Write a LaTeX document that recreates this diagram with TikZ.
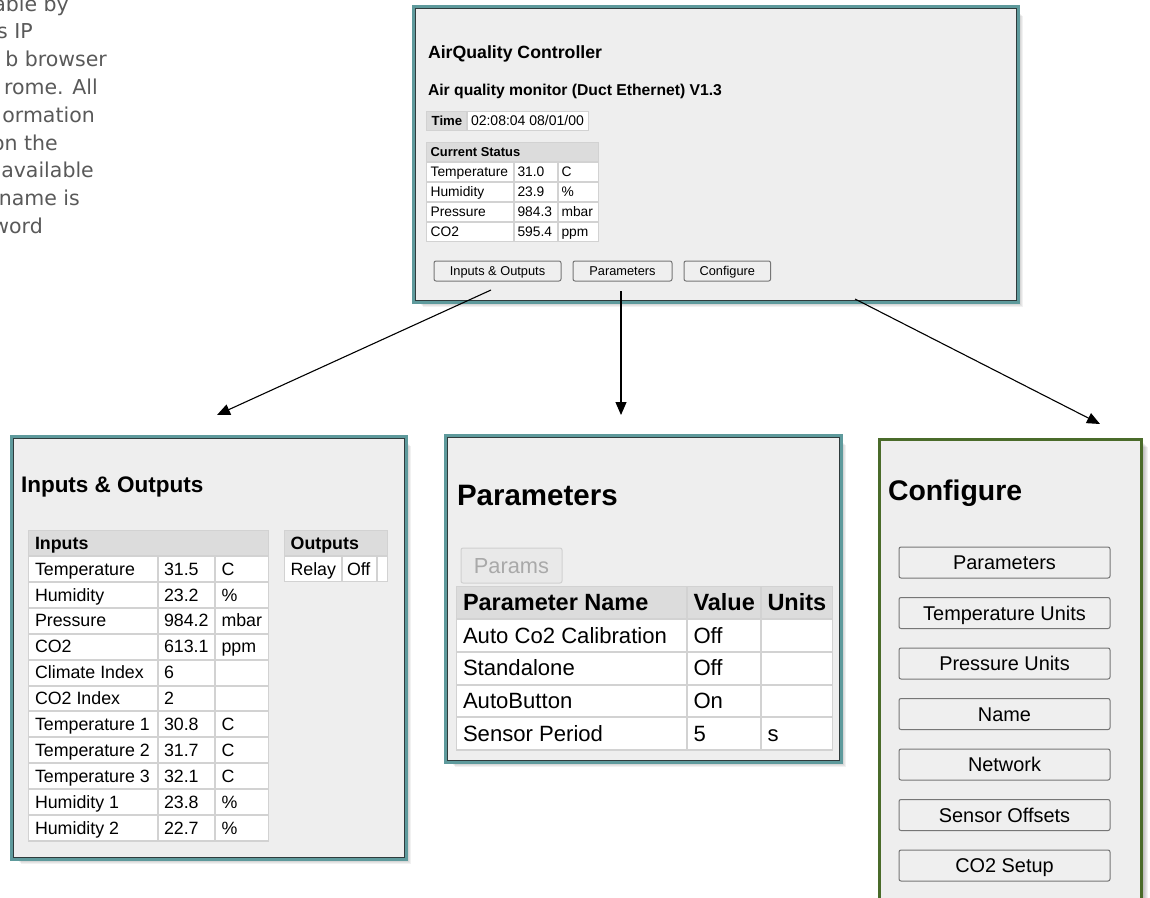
\documentclass[tikz,border=0pt]{standalone}
\usepackage{fontspec}
\setmainfont{Liberation Sans}
\newfontfamily\verdfont{DejaVu Sans}
\usetikzlibrary{arrows.meta}
\definecolor{panelbg}{HTML}{EEEEEE}
\definecolor{panelteal}{HTML}{5E9A9C}
\definecolor{paneldark}{HTML}{2F3B3C}
\definecolor{panelgreen}{HTML}{4A6B2A}
\definecolor{gridc}{HTML}{D2D2D2}
\definecolor{headc}{HTML}{DCDCDC}
\definecolor{btnborder}{HTML}{767676}
\definecolor{btnfill}{HTML}{EFEFEF}
\definecolor{txtgray}{HTML}{595959}
\definecolor{disgray}{HTML}{A9A9A9}
\definecolor{disfill}{HTML}{E9E9E9}
\definecolor{disborder}{HTML}{D0D0D0}
\newcommand{\fsz}[1]{\fontsize{#1}{#1}\selectfont}
\tikzset{
  lbl/.style={anchor=base west, inner sep=0pt, outer sep=0pt},
  btnbox/.style={draw=btnborder, fill=btnfill, line width=1pt, rounded corners=2pt, inner sep=0pt, outer sep=0pt},
  conn/.style={line width=1.1pt, -{Triangle[length=13pt,width=11pt]}},
  shd/.style={fill=black, opacity=0.055},
}
\newcommand{\pshadow}[4]{\foreach \d in {1,...,7}{\fill[shd] (#1+\d+1,#2+\d+1) rectangle (#3+\d,#4+\d);}}
\newcommand{\tpanel}[5]{%
  \pshadow{#2}{#3}{#4}{#5}
  \draw[panelteal, line width=3pt] (#2-2,#3-2) rectangle (#4+2,#5+2);
  \node[draw=paneldark, line width=1pt, fill=panelbg, inner sep=0pt, outer sep=0pt,
        minimum width={#4-#2}, minimum height={#5-#3}] (#1) at ({(#2+#4)/2},{(#3+#5)/2}) {};}
\newcommand{\tcell}[4]{\fill[white] (#1+1,#2+1) rectangle (#3-1,#4-1);}
\newcommand{\hcell}[4]{\fill[headc] (#1+1,#2+1) rectangle (#3-1,#4-1);}
\newcommand{\ctext}[6]{\node[lbl, font=\fsz{#5}] (#1) at (#2,{(#3+#4)/2+0.35*#5}) {#6};}
\begin{document}
\begin{tikzpicture}[x=1pt,y=-1pt]
\useasboundingbox (0,0) rectangle (1150,897);
\clip (0,0) rectangle (1150,897);

% ---- intro text (clipped at the left edge)
\foreach \t/\xr/\yb [count=\i] in {able by/69/11, s IP/33/38.8, b browser/107/66.6, rome. All/98/94.4, ormation/95/122.2, on the/58/150, available/94/177.8, name is/80/205.6, word/43/233.4}
  \node[anchor=base east, inner sep=0pt, font=\verdfont\fsz{20.5}, text=txtgray] (intro\i) at (\xr,\yb) {\t};

% ---- main panel
\tpanel{main}{415}{8}{1016}{300}
\node[lbl, font=\bfseries\fsz{17.7}] (title) at (428,58) {AirQuality Controller};
\node[lbl, font=\bfseries\fsz{15.7}] (subtitle) at (428,95) {Air quality monitor (Duct Ethernet) V1.3};
\fill[gridc] (426,111) rectangle (589,131);
\hcell{426}{111}{467}{131}
\tcell{467}{111}{589}{131}
\ctext{timeh}{431.7}{111}{131}{13.2}{\bfseries Time}
\ctext{timev}{471}{111}{131}{14}{02:08:04 08/01/00}

\fill[gridc] (426,142) rectangle (599,242);
\hcell{426}{142}{599}{162}
\ctext{sth}{430.6}{142}{162}{12.9}{\bfseries Current Status}
\foreach \n/\v/\u [count=\i from 0] in {Temperature/31.0/C, Humidity/23.9/\%, Pressure/984.3/mbar, CO2/595.4/ppm}{
  \pgfmathsetmacro\ya{162+20*\i}\pgfmathsetmacro\yb{182+20*\i}
  \tcell{426}{\ya}{514}{\yb}\tcell{514}{\ya}{558}{\yb}\tcell{558}{\ya}{599}{\yb}
  \ctext{stn\i}{430.6}{\ya}{\yb}{13.8}{\n}
  \ctext{stv\i}{517.5}{\ya}{\yb}{13.8}{\v}
  \ctext{stu\i}{561.5}{\ya}{\yb}{13.8}{\u}
}
\node[btnbox, minimum width=127pt, minimum height=20pt, text height=9.2pt, text depth=0pt, font=\fsz{12.8}] (bio) at (497.5,271) {Inputs \& Outputs};
\node[btnbox, minimum width=99pt, minimum height=20pt, text height=9.2pt, text depth=0pt, font=\fsz{12.8}] (bpar) at (622.5,271) {Parameters};
\node[btnbox, minimum width=86.6pt, minimum height=20pt, text height=9.2pt, text depth=0pt, font=\fsz{12.8}] (bcfg) at (727.3,271) {Configure};

% ---- Inputs & Outputs panel
\tpanel{iopanel}{13}{438}{404}{857}
\node[lbl, font=\bfseries\fsz{22.5}] (iotitle) at (21,492) {Inputs \& Outputs};
\fill[gridc] (28,530) rectangle (269,841.9);
\hcell{28}{530}{269}{556}
\ctext{inh}{35}{530}{556}{17.8}{\bfseries Inputs}
\foreach \n/\v/\u [count=\i from 0] in {Temperature/31.5/C, Humidity/23.2/\%, Pressure/984.2/mbar, CO2/613.1/ppm, Climate Index/6/{}, CO2 Index/2/{}, Temperature 1/30.8/C, Temperature 2/31.7/C, Temperature 3/32.1/C, Humidity 1/23.8/\%, Humidity 2/22.7/\%}{
  \pgfmathsetmacro\ya{556+25.9*\i}\pgfmathsetmacro\yb{556+25.9*(\i+1)}
  \tcell{28}{\ya}{158}{\yb}\tcell{158}{\ya}{215}{\yb}\tcell{215}{\ya}{269}{\yb}
  \ctext{inn\i}{35}{\ya}{\yb}{17.8}{\n}
  \ctext{inv\i}{164}{\ya}{\yb}{17.8}{\v}
  \ctext{inu\i}{221.5}{\ya}{\yb}{17.8}{\u}
}
\fill[gridc] (284,530) rectangle (388,582);
\hcell{284}{530}{388}{556}
\tcell{284}{556}{342}{582}\tcell{342}{556}{377}{582}\tcell{377}{556}{388}{582}
\ctext{outh}{290.7}{530}{556}{17.8}{\bfseries Outputs}
\ctext{outn}{290.5}{556}{582}{17.8}{Relay}
\ctext{outv}{347}{556}{582}{17.8}{Off}

% ---- Parameters panel
\tpanel{parpanel}{447}{437}{839}{760}
\node[lbl, font=\bfseries\fsz{29.5}] (partitle) at (457,505) {Parameters};
\node[draw=disborder, fill=disfill, line width=1pt, rounded corners=2pt, inner sep=0pt,
      minimum width=101pt, minimum height=35pt, text height=15.6pt, text depth=0pt,
      font=\fsz{21.8}, text=disgray] (pbtn) at (511.5,565.5) {Params};
\fill[gridc] (456,586) rectangle (833,750.5);
\hcell{456}{586}{687}{619}\hcell{687}{586}{761}{619}\hcell{761}{586}{833}{619}
\ctext{ph1}{463}{586}{619}{23.5}{\bfseries Parameter Name}
\ctext{ph2}{693.5}{586}{619}{23.5}{\bfseries Value}
\ctext{ph3}{767.5}{586}{619}{23.5}{\bfseries Units}
\foreach \n/\v/\u [count=\i from 0] in {Auto Co2 Calibration/Off/{}, Standalone/Off/{}, AutoButton/On/{}, Sensor Period/5/s}{
  \pgfmathsetmacro\ya{619+32.75*\i}\pgfmathsetmacro\yb{619+32.75*(\i+1)}
  \tcell{456}{\ya}{687}{\yb}\tcell{687}{\ya}{761}{\yb}\tcell{761}{\ya}{833}{\yb}
  \ctext{pn\i}{463}{\ya}{\yb}{22.1}{\n}
  \ctext{pv\i}{693.5}{\ya}{\yb}{22.1}{\v}
  \ctext{pu\i}{767.5}{\ya}{\yb}{22.1}{\u}
}

% ---- Configure panel
\pshadow{879}{439}{1141}{930}
\node[draw=panelgreen, line width=3pt, fill=panelbg, inner sep=0pt, outer sep=0pt,
      minimum width=262pt, minimum height=491pt] (cfgpanel) at (1010,684.5) {};
\node[lbl, font=\bfseries\fsz{28.4}] (cfgtitle) at (888,500) {Configure};
\foreach \t [count=\i from 0] in {Parameters, Temperature Units, Pressure Units, Name, Network, Sensor Offsets, CO2 Setup}
  \node[btnbox, minimum width=211pt, minimum height=31pt, text height=14.2pt, text depth=0pt, font=\fsz{19.9}]
    (cb\i) at (1004.5,{562.5+50.5*\i}) {\t};

% ---- connectors
\coordinate (a1s) at (491,290); \coordinate (a1e) at (217,415);
\coordinate (a2s) at (621,291); \coordinate (a2e) at (621,415);
\coordinate (a3s) at (855,299); \coordinate (a3e) at (1100,424);
\draw[conn] (a1s) -- (a1e);
\draw[conn] (a2s) -- (a2e);
\draw[conn] (a3s) -- (a3e);
\end{tikzpicture}
\end{document}
